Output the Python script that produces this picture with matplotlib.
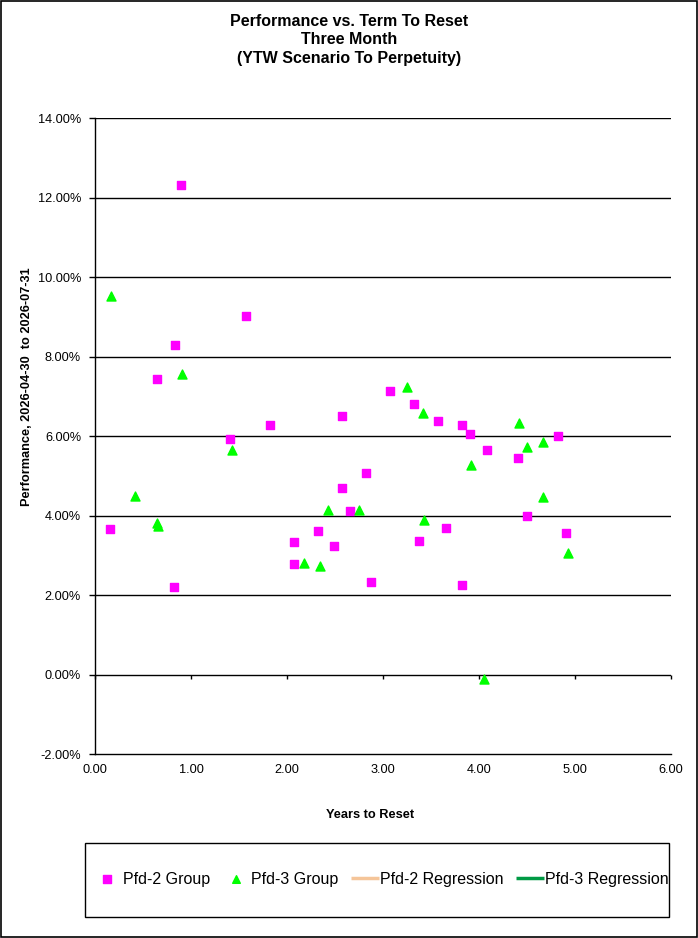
import matplotlib
matplotlib.use("Agg")
import matplotlib.pyplot as plt
from matplotlib.patches import Rectangle
from matplotlib.ticker import FuncFormatter

plt.rcParams['font.family'] = ['Liberation Sans', 'DejaVu Sans']

# -------------------------------
# Données
# -------------------------------
pfd2_x = [0.16, 0.90, 0.65, 0.83, 0.82, 1.57, 1.41, 1.82, 2.07, 2.07, 2.32,
          2.49, 2.57, 2.57, 2.66, 2.82, 2.87, 3.07, 3.32, 3.37, 3.57, 3.82,
          3.91, 4.08, 4.41, 4.82, 4.50, 3.66, 4.91, 3.82]
pfd2_y = [3.66, 12.31, 7.43, 8.29, 2.20, 9.02, 5.92, 6.28, 3.33, 2.78, 3.61,
          3.23, 6.50, 4.69, 4.11, 5.07, 2.33, 7.13, 6.80, 3.36, 6.38, 6.28,
          6.05, 5.65, 5.45, 6.00, 3.99, 3.69, 3.56, 2.25]

pfd3_x = [0.17, 0.91, 0.42, 0.65, 0.66, 1.43, 2.43, 2.75, 2.18, 2.34, 3.25,
          3.42, 4.42, 4.50, 4.67, 3.92, 4.67, 3.43, 4.93, 4.05]
pfd3_y = [9.52, 7.56, 4.49, 3.80, 3.74, 5.65, 4.14, 4.14, 2.80, 2.73, 7.23,
          6.58, 6.33, 5.72, 5.85, 5.27, 4.47, 3.89, 3.06, -0.11]

x_ticks = [0, 1, 2, 3, 4, 5, 6]
y_ticks = [-2, 0, 2, 4, 6, 8, 10, 12, 14]

titre = "Performance vs. Term To Reset\nThree Month\n(YTW Scenario To Perpetuity)"

# -------------------------------
# Tracé
# -------------------------------
fig = plt.figure(figsize=(6.98, 9.38), dpi=100)
ax = fig.add_axes([95/698, 1 - 754/938, (671 - 95)/698, (754 - 118)/938])

ax.scatter(pfd2_x, pfd2_y, marker="s", s=40, color="#FF00FF", label="Pfd-2 Group", zorder=3)
ax.scatter(pfd3_x, pfd3_y, marker="^", s=42, color="#00FF00", label="Pfd-3 Group", zorder=3)
# droites de régression : seulement dans la légende
ax.plot([], [], color="#F5C599", lw=2.5, solid_capstyle="butt", label="Pfd-2 Regression")
ax.plot([], [], color="#009A44", lw=2.5, solid_capstyle="butt", label="Pfd-3 Regression")

ax.set_xlim(0, 6)
ax.set_ylim(-2, 14)
ax.set_xticks(x_ticks)
ax.set_yticks(y_ticks)
ax.xaxis.set_major_formatter(FuncFormatter(lambda v, p: f"{v:.2f}"))
ax.yaxis.set_major_formatter(FuncFormatter(lambda v, p: f"{v:.2f}%"))
ax.tick_params(axis="y", labelsize=9.2, direction="out", length=4, width=1, pad=6)
ax.tick_params(axis="x", labelsize=9.2, length=0, pad=7)

for s in ["top", "right"]:
    ax.spines[s].set_visible(False)
ax.spines["left"].set_linewidth(1)
ax.spines["bottom"].set_linewidth(1)
for v in y_ticks[1:]:
    ax.axhline(v, color="black", lw=1, zorder=1)

# l'axe des x croise à 0 % : petites graduations sur cette ligne
sec = ax.secondary_xaxis(2 / 16)
sec.set_xticks(x_ticks)
sec.tick_params(length=3, width=1, direction="out", labelbottom=False)
sec.spines["bottom"].set_visible(False)

ax.set_xlabel("Years to Reset", fontsize=9.2, fontweight="bold", va="center")
ax.xaxis.set_label_coords((370 - 95) / 576, (754 - 815) / 636)
ax.set_ylabel("Performance, 2026-04-30  to 2026-07-31", fontsize=9.2, fontweight="bold",
              va="center")
ax.yaxis.set_label_coords((27 - 95) / 576, (754 - 387) / 636)

fig.text(0.5, 1 - 40/938, titre, ha="center", va="center", fontsize=11.5,
         fontweight="bold", linespacing=1.3)

# cadre de la légende + légende
fig.patches.append(Rectangle((85/698, 1 - 917/938), (669 - 85)/698, 74/938,
                             transform=fig.transFigure, fill=False, lw=1, ec="black"))
fig.legend(loc="center", bbox_to_anchor=(381/698, 1 - 879/938), ncol=4, frameon=False,
           fontsize=11.5, handlelength=1.75, handletextpad=0.1, columnspacing=0.75,
           scatterpoints=1, markerscale=0.85)

# bordure extérieure
fig.patches.append(Rectangle((0.001, 0.001), 0.997, 0.998, transform=fig.transFigure,
                             fill=False, lw=1.2, ec="black"))

fig.savefig("out.png", dpi=100)
